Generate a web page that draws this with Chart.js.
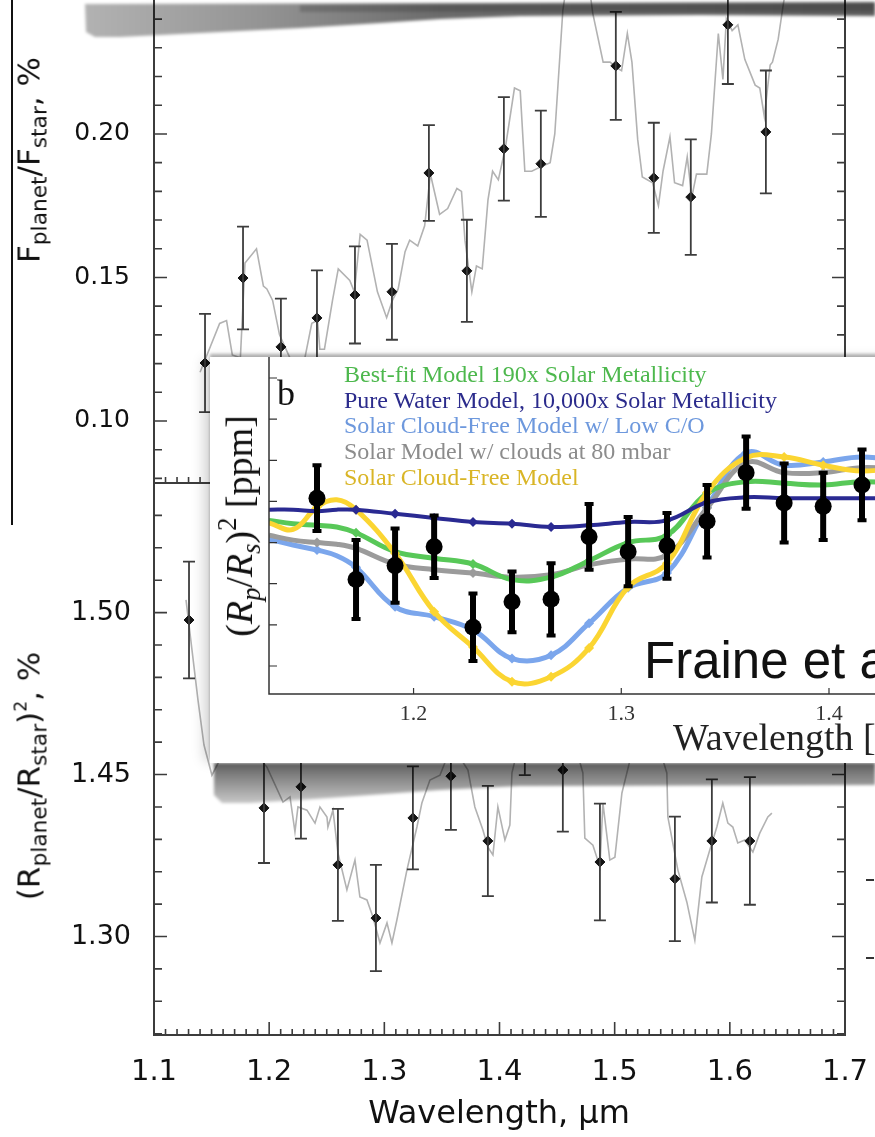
<!DOCTYPE html>
<html>
<head>
<meta charset="utf-8">
<script src="https://cdn.jsdelivr.net/npm/chart.js@4.4.1/dist/chart.umd.min.js"></script>
<style>
  html, body { margin:0; padding:0; background:#fff; }
  body { position:relative; width:875px; height:1137px; overflow:hidden; font-family:"DejaVu Sans", sans-serif; color:#111; }
  canvas { position:absolute; display:block; }
  .abs { position:absolute; white-space:nowrap; line-height:1; }
  .vtitle { transform:translate(-50%,-50%) rotate(-90deg); font-size:31px; }
  .vtitle sub { font-size:0.7em; vertical-align:-0.3em; line-height:0; }
  .vtitle sup { font-size:0.55em; vertical-align:0.75em; line-height:0; }
  .serif { font-family:"Liberation Serif", serif; }
  #edgeLine { position:absolute; left:11px; top:0; width:2px; height:525px; background:#111; }
  .band { position:absolute; left:0; width:875px; height:60px; filter:blur(1.6px); pointer-events:none; }
  .band > div { position:absolute; left:0; top:0; width:875px; height:60px; }
  #topBand { top:0; }
  #topBand > div { background:linear-gradient(90deg, rgba(0,0,0,.30) 85px, rgba(0,0,0,.42) 260px, rgba(0,0,0,.58) 440px, rgba(0,0,0,.64) 875px);
    clip-path:polygon(85px 4px, 875px 2px, 875px 16px, 700px 15px, 520px 16px, 440px 19px, 380px 23px, 300px 28px, 200px 33px, 120px 37px, 95px 37px, 86px 32px); }
  #topBand > div.rim { background:rgba(0,0,0,.18); clip-path:polygon(300px 5px, 875px 3px, 875px 11px, 300px 12px); }
  #insetBand { top:755px; }
  #insetBand > div { background:linear-gradient(180deg, rgba(0,0,0,.62) 8px, rgba(0,0,0,.5) 20px, rgba(0,0,0,.22) 48px);
    clip-path:polygon(214px 8px, 875px 8px, 875px 30px, 520px 31px, 440px 35px, 300px 45px, 250px 48px, 222px 48px, 214px 40px); }
  #inset { position:absolute; left:210px; top:357px; width:700px; height:406px; background:#fff; overflow:hidden;
    box-shadow:-8px 0 12px -2px rgba(0,0,0,.18), 0 -3px 3px rgba(0,0,0,.28); }
  #legend { left:134px; top:5px; font-size:24px; line-height:25.7px; }
  #cite { left:434px; top:278px; font-family:"Liberation Sans", sans-serif; font-size:51px; color:#111; }
  #insetX { left:463px; top:361px; font-size:38px; color:#222; }
  #insetY { left:29px; top:169px; transform:translate(-50%,-50%) rotate(-90deg); font-size:38px; color:#111; }
  #insetY sub { font-size:0.7em; vertical-align:-0.3em; line-height:0; }
  #insetY sup { font-size:0.7em; vertical-align:0.6em; line-height:0; }
  .dash { position:absolute; left:866px; width:8px; height:2px; background:#333; }
</style>
</head>
<body>
<canvas id="emis" width="875" height="505" style="left:0;top:-20px"></canvas>
<canvas id="trans" width="875" height="654" style="left:0;top:483px"></canvas>

<div id="edgeLine"></div>
<div class="abs vtitle" style="left:29px;top:160px">F<sub>planet</sub>/F<sub>star</sub>, %</div>
<div class="abs vtitle" style="left:29px;top:776px">(R<sub>planet</sub>/R<sub>star</sub>)<sup>2</sup>, %</div>
<div class="abs" style="left:499px;top:1112px;transform:translate(-50%,-50%);font-size:32px">Wavelength, µm</div>
<div class="dash" style="top:879px"></div>
<div class="dash" style="top:957px"></div>

<div id="topBand" class="band"><div></div><div class="rim"></div></div>
<div id="insetBand" class="band"><div></div></div>

<div id="inset">
  <canvas id="fraine" width="700" height="406" style="left:0;top:0"></canvas>
  <div class="abs serif" style="left:67px;top:18px;font-size:36px">b</div>
  <div id="legend" class="abs serif"></div>
  <div id="cite" class="abs">Fraine et al. 2014</div>
  <div id="insetX" class="abs serif">Wavelength [µm]</div>
  <div id="insetY" class="abs serif">(<i>R</i><sub><i>p</i></sub>/<i>R</i><sub><i>s</i></sub>)<sup>2</sup> [ppm]</div>
</div>

<script>
// ---- shared wavelength axis (µm) ----
const wlTicks = [1.1, 1.2, 1.3, 1.4, 1.5, 1.6, 1.7];
const wlTickLabels = ['1.1', '1.2', '1.3', '1.4', '1.5', '1.6', '1.7'];

// ---- emission: planet/star flux ratio, % ----
const emisYTicks = [0.10, 0.15, 0.20];
const emisYTickLabels = ['0.10', '0.15', '0.20'];
const emisWl    = [1.1443, 1.1773, 1.2102, 1.2415, 1.2745, 1.3066, 1.3387, 1.3717, 1.4038, 1.4359, 1.5010, 1.5340, 1.5661, 1.5983, 1.6313];
const emisRatio = [0.1202, 0.1498, 0.1258, 0.1359, 0.1439, 0.1450, 0.1864, 0.1523, 0.1948, 0.1896, 0.2237, 0.1847, 0.1780, 0.2380, 0.2007];
const emisErr   = [0.0171, 0.0179, 0.0168, 0.0166, 0.0169, 0.0167, 0.0167, 0.0178, 0.0180, 0.0185, 0.0188, 0.0192, 0.0201, 0.0206, 0.0214];
const emisModelWl = [1.140, 1.146, 1.157, 1.163, 1.168, 1.175, 1.179, 1.189, 1.195, 1.198, 1.203, 1.209, 1.218, 1.231, 1.237, 1.242, 1.244, 1.248, 1.255, 1.260,
  1.270, 1.274, 1.279, 1.285, 1.294, 1.302, 1.307, 1.312, 1.318, 1.322, 1.329, 1.335, 1.340, 1.344, 1.348, 1.355, 1.363, 1.367, 1.370, 1.376,
  1.380, 1.385, 1.390, 1.394, 1.399, 1.405, 1.413, 1.418, 1.422, 1.428, 1.433, 1.444, 1.448, 1.455, 1.459, 1.477, 1.481, 1.490, 1.496, 1.502,
  1.506, 1.511, 1.515, 1.520, 1.524, 1.533, 1.538, 1.542, 1.548, 1.552, 1.559, 1.563, 1.567, 1.571, 1.580, 1.584, 1.590, 1.594, 1.597, 1.602,
  1.607, 1.610, 1.613, 1.622, 1.626, 1.630, 1.635, 1.637, 1.642, 1.646, 1.650];
const emisModelRatio = [0.117, 0.123, 0.134, 0.135, 0.123, 0.122, 0.155, 0.160, 0.147, 0.146, 0.142, 0.130, 0.122, 0.122, 0.134, 0.135, 0.125, 0.125, 0.142, 0.153,
  0.149, 0.145, 0.165, 0.163, 0.145, 0.136, 0.142, 0.146, 0.159, 0.163, 0.161, 0.168, 0.186, 0.179, 0.172, 0.174, 0.181, 0.180, 0.163, 0.145,
  0.154, 0.153, 0.177, 0.187, 0.184, 0.195, 0.216, 0.215, 0.187, 0.187, 0.188, 0.190, 0.200, 0.243, 0.254, 0.254, 0.242, 0.225, 0.225, 0.223,
  0.222, 0.235, 0.225, 0.198, 0.185, 0.183, 0.175, 0.187, 0.199, 0.183, 0.182, 0.192, 0.178, 0.186, 0.186, 0.200, 0.235, 0.219, 0.240, 0.236,
  0.238, 0.232, 0.226, 0.217, 0.216, 0.206, 0.224, 0.225, 0.233, 0.244, 0.254];

// ---- transmission: (Rp/Rs)^2, % ----
const transYTicks = [1.40, 1.45, 1.50];
const transYTickLabels = ['1.30', '1.45', '1.50'];
const transWl    = [1.1304, 1.1955, 1.2276, 1.2597, 1.2927, 1.3248, 1.3578, 1.3899, 1.4220, 1.4550, 1.4872, 1.5523, 1.5844, 1.6174];
const transDepth = [1.4977, 1.4397, 1.4462, 1.4221, 1.4057, 1.4366, 1.4495, 1.4295, 1.4665, 1.4514, 1.4230, 1.4178, 1.4295, 1.4295];
const transErr   = [0.0180, 0.0170, 0.0160, 0.0173, 0.0164, 0.0159, 0.0166, 0.0170, 0.0167, 0.0190, 0.0180, 0.0192, 0.0190, 0.0197];
const transModelWl = [1.1278, 1.1330, 1.1382, 1.1434, 1.1503, 1.1703, 1.1981, 1.2120, 1.2181, 1.2224, 1.2250, 1.2328, 1.2398, 1.2441, 1.2502, 1.2510,
  1.2554, 1.2597, 1.2675, 1.2745, 1.2788, 1.2849, 1.2901, 1.2962, 1.3023, 1.3066, 1.3109, 1.3196, 1.3283, 1.3326, 1.3396, 1.3483,
  1.3587, 1.3726, 1.3786, 1.3856, 1.3899, 1.3943, 1.3986, 1.4047, 1.4090, 1.4108, 1.4264, 1.4524, 1.4724, 1.4741, 1.4811, 1.4872,
  1.4898, 1.4958, 1.5002, 1.5063, 1.5106, 1.5262, 1.5453, 1.5462, 1.5549, 1.5627, 1.5696, 1.5757, 1.5826, 1.5887, 1.5939, 1.5983,
  1.6026, 1.6069, 1.6130, 1.6200, 1.6260, 1.6330, 1.6365];
const transModelDepth = [1.5039, 1.4884, 1.4730, 1.4591, 1.4498, 1.4637, 1.4523, 1.4415, 1.4431, 1.4323, 1.4400, 1.4390, 1.4350, 1.4400, 1.4369, 1.4338,
  1.4390, 1.4258, 1.4144, 1.4236, 1.4122, 1.4113, 1.4060, 1.3980, 1.4042, 1.3980, 1.4051, 1.4205, 1.4338, 1.4412, 1.4483, 1.4498,
  1.4591, 1.4514, 1.4400, 1.4329, 1.4276, 1.4252, 1.4400, 1.4298, 1.4344, 1.4505, 1.4730, 1.4761, 1.4505, 1.4304, 1.4282, 1.4215,
  1.4412, 1.4236, 1.4245, 1.4443, 1.4505, 1.4730, 1.4505, 1.4369, 1.4205, 1.4106, 1.3989, 1.4184, 1.4267, 1.4338, 1.4412, 1.4350,
  1.4338, 1.4289, 1.4298, 1.4261, 1.4319, 1.4369, 1.4381];

// ---- panel b: Fraine et al. spectrum, ppm ----
const fraineXTicks = [1.2, 1.3, 1.4];
const fraineXTickLabels = ['1.2', '1.3', '1.4'];
const fraineWl    = [1.1535, 1.1723, 1.1911, 1.2099, 1.2286, 1.2474, 1.2662, 1.2845, 1.3033, 1.3220, 1.3413, 1.3601, 1.3784, 1.3972, 1.4159];
const fraineDepth = [3404, 3305, 3322, 3345, 3247, 3278, 3281, 3357, 3339, 3346, 3376, 3435, 3398, 3394, 3420];
const fraineErr   = [40, 48, 45, 38, 41, 37, 44, 40, 42, 40, 44, 44, 48, 41, 43];
const modelWl     = [1.1304, 1.1420, 1.1535, 1.1630, 1.1723, 1.1911, 1.2099, 1.2286, 1.2474, 1.2662, 1.2845, 1.3033, 1.3220, 1.3413, 1.3601, 1.3784, 1.3972, 1.4159, 1.4390];
const modelIsBin  = [0, 0, 1, 0, 1, 1, 1, 1, 1, 1, 1, 1, 1, 1, 1, 1, 1, 1, 0];
const bestFit190x = [3377, 3373, 3371, 3369, 3362, 3339, 3331, 3324, 3305, 3308, 3328, 3350, 3359, 3410, 3424, 3422, 3420, 3424, 3421];
const pureWater   = [3390, 3390, 3388, 3390, 3390, 3385, 3380, 3375, 3373, 3369, 3371, 3375, 3377, 3399, 3405, 3404, 3404, 3404, 3404];
const solarLowCO  = [3354, 3347, 3341, 3334, 3320, 3272, 3260, 3244, 3209, 3213, 3252, 3295, 3313, 3393, 3459, 3444, 3448, 3454, 3448];
const solarClouds = [3359, 3353, 3350, 3348, 3343, 3324, 3317, 3313, 3308, 3311, 3323, 3330, 3335, 3392, 3447, 3435, 3435, 3441, 3438];
const solarClear  = [3374, 3366, 3393, 3402, 3390, 3337, 3266, 3223, 3181, 3187, 3222, 3296, 3325, 3411, 3453, 3454, 3444, 3437, 3443];
const modelNames  = ['Best-fit Model 190x Solar Metallicity', 'Pure Water Model, 10,000x Solar Metallicity',
  'Solar Cloud-Free Model w/ Low C/O', 'Solar Model w/ clouds at 80 mbar', 'Solar Cloud-Free Model'];
const modelLineColors = ['#58c858', '#2a2a92', '#7ba6ec', '#9b9b9b', '#fbd532'];
const modelTextColors = ['#4db84d', '#2b2b8c', '#6d98dd', '#8c8c8c', '#d9b526'];

// ---------- plugins ----------
const pts = (xs, ys) => xs.map((x, i) => ({ x, y: ys[i] }));

// vertical error bars with caps, drawn through the chart's scales
const errorBars = {
  id: 'errorBars',
  afterDatasetsDraw(chart) {
    const { ctx, chartArea: a } = chart;
    const xs = chart.scales.x, ys = chart.scales.y;
    ctx.save();
    ctx.beginPath(); ctx.rect(a.left, a.top, a.right - a.left, a.bottom - a.top); ctx.clip();
    chart.data.datasets.forEach(ds => {
      if (!ds.errors) return;
      ctx.strokeStyle = ds.errColor; ctx.lineCap = 'butt';
      ds.data.forEach((p, i) => {
        const e = ds.errors[i];
        const px = xs.getPixelForValue(p.x);
        const yHi = ys.getPixelForValue(p.y + e), yLo = ys.getPixelForValue(p.y - e);
        ctx.lineWidth = ds.errWidth;
        ctx.beginPath(); ctx.moveTo(px, yHi); ctx.lineTo(px, yLo); ctx.stroke();
        ctx.lineWidth = ds.capWidth;
        ctx.beginPath();
        ctx.moveTo(px - ds.capHalf, yHi); ctx.lineTo(px + ds.capHalf, yHi);
        ctx.moveTo(px - ds.capHalf, yLo); ctx.lineTo(px + ds.capHalf, yLo);
        ctx.stroke();
      });
    });
    ctx.restore();
  }
};

// axis lines with inward-pointing major/minor ticks
const axisFrame = {
  id: 'axisFrame',
  afterDatasetsDraw(chart, args, o) {
    const { ctx, chartArea: a } = chart;
    const xs = chart.scales.x, ys = chart.scales.y;
    const marks = (scale, minor, major) => {
      const out = [];
      const n0 = Math.ceil(scale.min / minor - 1e-6), n1 = Math.floor(scale.max / minor + 1e-6);
      for (let n = n0; n <= n1; n++) {
        const v = n * minor, r = v / major;
        out.push({ p: scale.getPixelForValue(v), major: Math.abs(r - Math.round(r)) < 1e-6 });
      }
      return out;
    };
    ctx.save();
    ctx.strokeStyle = o.color; ctx.lineWidth = o.width; ctx.lineCap = 'square';
    ctx.beginPath();
    if (o.left)   { ctx.moveTo(a.left, a.top);  ctx.lineTo(a.left, a.bottom); }
    if (o.right)  { ctx.moveTo(a.right, a.top); ctx.lineTo(a.right, a.bottom); }
    if (o.bottom) { ctx.moveTo(a.left, a.bottom); ctx.lineTo(a.right, a.bottom); }
    ctx.stroke();
    ctx.lineWidth = o.tickWidth; ctx.lineCap = 'butt';
    ctx.beginPath();
    marks(ys, o.yMinor, o.yMajor).forEach(m => {
      const L = m.major ? o.yMajorLen : o.yMinorLen;
      if (o.left)  { ctx.moveTo(a.left, m.p);  ctx.lineTo(a.left + L, m.p); }
      if (o.right) { ctx.moveTo(a.right, m.p); ctx.lineTo(a.right - L, m.p); }
    });
    if (o.bottom) marks(xs, o.xMinor, o.xMajor).forEach(m => {
      const L = m.major ? o.xMajorLen : o.xMinorLen;
      ctx.moveTo(m.p, a.bottom); ctx.lineTo(m.p, a.bottom - L);
    });
    ctx.stroke();
    ctx.restore();
  }
};

// fixed axis sizes: no extra room reserved for half-labels at the ends
const fixSize = (w, h) => s => {
  if (w !== null) s.width = w;
  if (h !== null) s.height = h;
  s.paddingTop = s.paddingBottom = s.paddingLeft = s.paddingRight = 0;
};

const base = { responsive: false, animation: false, devicePixelRatio: 1, events: [] };
const sans = (size) => ({ family: 'DejaVu Sans', size });

// ---------- top panel: emission ----------
new Chart(document.getElementById('emis'), {
  type: 'line',
  data: { datasets: [
    { data: pts(emisWl, emisRatio), showLine: false, pointStyle: 'rectRot', pointRadius: 5,
      backgroundColor: '#151515', borderColor: '#151515', borderWidth: 1,
      errors: emisErr, errColor: '#3d3d3d', errWidth: 1.8, capWidth: 1.8, capHalf: 6 },
    { data: pts(emisModelWl, emisModelRatio), borderColor: '#b2b2b2', borderWidth: 1.6, pointRadius: 0, tension: 0 }
  ]},
  options: { ...base,
    layout: { padding: { left: 0, right: 30, top: 15, bottom: 0 }, autoPadding: false },
    plugins: { legend: { display: false }, tooltip: { enabled: false },
      axisFrame: { left: true, right: true, bottom: true, color: '#3c3c3c', width: 2, tickWidth: 1.6,
        yMinor: 0.01, yMajor: 0.05, yMajorLen: 13, yMinorLen: 8, xMinor: 0.01, xMajor: 0.1, xMajorLen: 12, xMinorLen: 6 } },
    scales: {
      x: { type: 'linear', min: 1.1, max: 1.7, grid: { display: false }, border: { display: false },
        ticks: { display: false }, afterFit: fixSize(null, 2) },
      y: { type: 'linear', min: 0.0784, max: 0.2484, grid: { display: false }, border: { display: false },
        afterBuildTicks: s => { s.ticks = emisYTicks.map(v => ({ value: v })); },
        ticks: { font: sans(25), color: '#111', padding: 16, callback: (v, i) => emisYTickLabels[i] },
        afterFit: fixSize(154, null) }
    }
  },
  plugins: [errorBars, axisFrame]
});

// ---------- bottom panel: transmission ----------
new Chart(document.getElementById('trans'), {
  type: 'line',
  data: { datasets: [
    { data: pts(transWl, transDepth), showLine: false, pointStyle: 'rectRot', pointRadius: 5,
      backgroundColor: '#151515', borderColor: '#151515', borderWidth: 1,
      errors: transErr, errColor: '#3d3d3d', errWidth: 1.8, capWidth: 1.8, capHalf: 6 },
    { data: pts(transModelWl, transModelDepth), borderColor: '#b2b2b2', borderWidth: 1.6, pointRadius: 0, tension: 0 }
  ]},
  options: { ...base,
    layout: { padding: { left: 0, right: 30, top: 0, bottom: 0 }, autoPadding: false },
    plugins: { legend: { display: false }, tooltip: { enabled: false },
      axisFrame: { left: true, right: true, bottom: true, color: '#3c3c3c', width: 2, tickWidth: 1.6,
        yMinor: 0.01, yMajor: 0.05, yMajorLen: 13, yMinorLen: 8, xMinor: 0.01, xMajor: 0.1, xMajorLen: 13, xMinorLen: 6 } },
    scales: {
      x: { type: 'linear', min: 1.1, max: 1.7, grid: { display: false }, border: { display: false },
        afterBuildTicks: s => { s.ticks = wlTicks.map(v => ({ value: v })); },
        ticks: { font: sans(29), color: '#111', padding: 12, maxRotation: 0, autoSkip: false,
          callback: (v, i) => wlTickLabels[i] },
        afterFit: fixSize(null, 102) },
      y: { type: 'linear', min: 1.3696, max: 1.5400, grid: { display: false }, border: { display: false },
        afterBuildTicks: s => { s.ticks = transYTicks.map(v => ({ value: v })); },
        ticks: { font: sans(27), color: '#111', padding: 15, callback: (v, i) => transYTickLabels[i] },
        afterFit: fixSize(154, null) }
    }
  },
  plugins: [errorBars, axisFrame]
});

// ---------- panel b ----------
document.getElementById('legend').innerHTML = modelNames
  .map((n, i) => `<div style="color:${modelTextColors[i]}">${n}</div>`).join('');

const modelSeries = [bestFit190x, pureWater, solarLowCO, solarClouds, solarClear];
const modelDs = i => ({
  data: pts(modelWl, modelSeries[i]), borderColor: modelLineColors[i], backgroundColor: modelLineColors[i],
  borderWidth: i === 1 ? 4 : 5, tension: 0.4, pointStyle: 'rectRot',
  pointRadius: modelIsBin.map(b => b ? 5 : 0), pointBorderWidth: 0
});

new Chart(document.getElementById('fraine'), {
  type: 'line',
  data: { datasets: [
    { data: pts(fraineWl, fraineDepth), showLine: false, pointStyle: 'circle', pointRadius: 8.5,
      backgroundColor: '#000', borderColor: '#000', borderWidth: 0,
      errors: fraineErr, errColor: '#000', errWidth: 6, capWidth: 4, capHalf: 4.5 },
    modelDs(1), modelDs(4), modelDs(0), modelDs(3), modelDs(2)
  ]},
  options: { ...base,
    layout: { padding: { left: 0, right: 0, top: 0, bottom: 0 }, autoPadding: false },
    plugins: { legend: { display: false }, tooltip: { enabled: false },
      axisFrame: { left: true, right: false, bottom: true, color: '#333', width: 1.5, tickWidth: 1.2,
        yMinor: 50, yMajor: 50, yMajorLen: 8, yMinorLen: 8, xMinor: 0.1, xMajor: 0.1, xMajorLen: 6, xMinorLen: 6 } },
    scales: {
      x: { type: 'linear', min: 1.1304, max: 1.4390, grid: { display: false }, border: { display: false },
        afterBuildTicks: s => { s.ticks = fraineXTicks.map(v => ({ value: v })); },
        ticks: { font: { family: 'Liberation Serif', size: 22, lineHeight: 1 }, color: '#333', padding: 1,
          maxRotation: 0, autoSkip: false, callback: (v, i) => fraineXTickLabels[i] },
        afterFit: fixSize(null, 69) },
      y: { type: 'linear', min: 3166, max: 3575.5, grid: { display: false }, border: { display: false },
        ticks: { display: false }, afterFit: fixSize(59, null) }
    }
  },
  plugins: [errorBars, axisFrame]
});
</script>
</body>
</html>
